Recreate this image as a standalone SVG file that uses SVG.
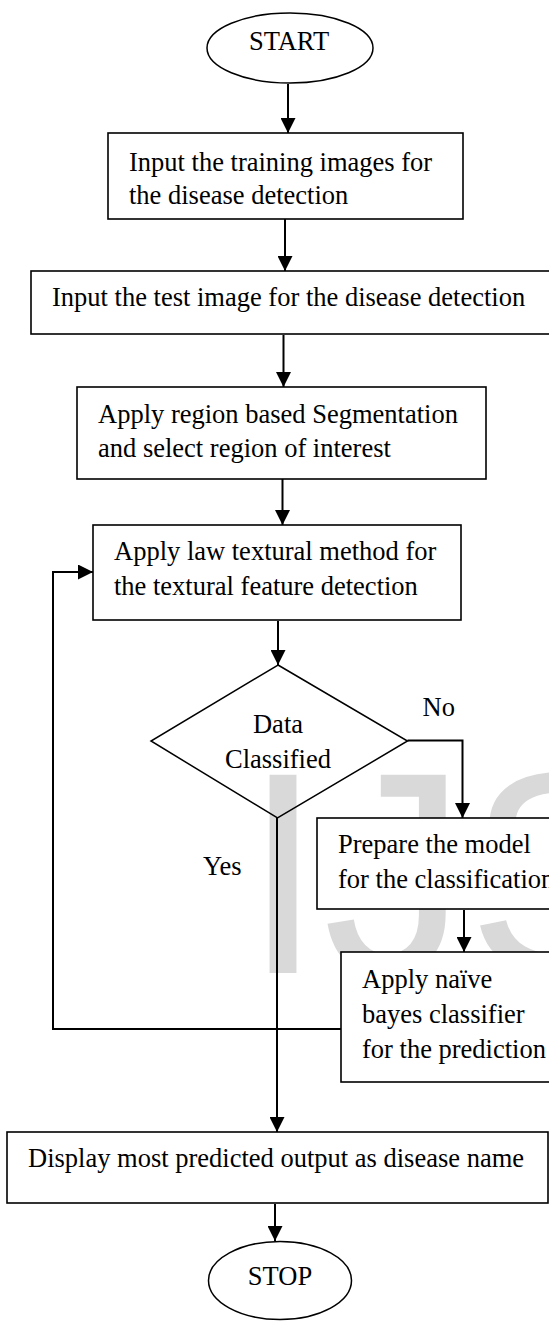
<svg xmlns="http://www.w3.org/2000/svg" width="549" height="1321" viewBox="0 0 549 1321">
<style>
  .box { fill: #ffffff; stroke: #000000; stroke-width: 1.6; }
  .shape { fill: none; stroke: #000000; stroke-width: 1.5; }
  .lbl { font-family: "Liberation Serif", "Times New Roman", serif; font-size: 26.5px; fill: #000000; }
  .mid { text-anchor: middle; }
  .conn { fill: none; stroke: #000000; stroke-width: 2; }
  .wm { font-family: "Liberation Sans", Arial, sans-serif; font-size: 288px; fill: #d9d9d9; }
</style>
<defs>
  <marker id="arrow" markerUnits="userSpaceOnUse" markerWidth="15" markerHeight="15" refX="15" refY="7.5" orient="auto">
    <path d="M0,0 L15,7.5 L0,15 z" fill="#000000"/>
  </marker>
</defs>
<rect x="0" y="0" width="549" height="1321" fill="#ffffff"/>

<g id="watermark">
  <text class="wm" x="243" y="973">IJS</text>
</g>

<g id="start">
  <ellipse class="shape" cx="290" cy="48" rx="83" ry="35"/>
  <text class="lbl mid" x="289" y="50">START</text>
</g>

<g id="input-training">
  <rect class="box" x="108" y="133" width="355" height="86"/>
  <text class="lbl" x="129" y="170.5">Input the training images for</text>
  <text class="lbl" x="129" y="204">the disease detection</text>
</g>

<g id="input-test">
  <rect class="box" x="31" y="271" width="540" height="63"/>
  <text class="lbl" x="52" y="306">Input the test image for the disease detection</text>
</g>

<g id="segmentation">
  <rect class="box" x="77" y="387" width="409" height="92"/>
  <text class="lbl" x="98" y="423">Apply region based Segmentation</text>
  <text class="lbl" x="98" y="457">and select region of interest</text>
</g>

<g id="law-textural">
  <rect class="box" x="93" y="525" width="368" height="95"/>
  <text class="lbl" x="114" y="560">Apply law textural method for</text>
  <text class="lbl" x="114" y="595">the textural feature detection</text>
</g>

<g id="decision">
  <polygon class="shape" points="278,665 407.5,741 277.5,818 151,741" fill="#ffffff" fill-opacity="0"/>
  <text class="lbl mid" x="278" y="733">Data</text>
  <text class="lbl mid" x="278" y="768">Classified</text>
</g>

<g id="prepare-model">
  <rect class="box" x="317" y="818" width="260" height="91"/>
  <text class="lbl" x="338" y="853">Prepare the model</text>
  <text class="lbl" x="338" y="888">for the classification</text>
</g>

<g id="naive-bayes">
  <rect class="box" x="341" y="952" width="240" height="130"/>
  <text class="lbl" x="362" y="988">Apply naïve</text>
  <text class="lbl" x="362" y="1023">bayes classifier</text>
  <text class="lbl" x="362" y="1058">for the prediction</text>
</g>

<g id="display">
  <rect class="box" x="7" y="1132" width="541" height="71"/>
  <text class="lbl" x="28" y="1167">Display most predicted output as disease name</text>
</g>

<g id="stop">
  <ellipse class="shape" cx="280" cy="1280.5" rx="71.5" ry="39"/>
  <text class="lbl mid" x="280" y="1285">STOP</text>
</g>

<g id="connectors">
  <line class="conn" x1="288" y1="84" x2="288" y2="133" marker-end="url(#arrow)"/>
  <line class="conn" x1="285" y1="219" x2="285" y2="271" marker-end="url(#arrow)"/>
  <line class="conn" x1="283.5" y1="335" x2="283.5" y2="387" marker-end="url(#arrow)"/>
  <line class="conn" x1="282.5" y1="479" x2="282.5" y2="525" marker-end="url(#arrow)"/>
  <line class="conn" x1="278" y1="621" x2="278" y2="665" marker-end="url(#arrow)"/>
  <polyline class="conn" points="407.5,740.5 462.5,740.5 462.5,818" marker-end="url(#arrow)"/>
  <line class="conn" x1="464" y1="910" x2="464" y2="952" marker-end="url(#arrow)"/>
  <line class="conn" x1="277" y1="818" x2="277" y2="1132" marker-end="url(#arrow)"/>
  <polyline class="conn" points="341,1029 53,1029 53,572 93,572" marker-end="url(#arrow)"/>
  <line class="conn" x1="275" y1="1204" x2="275" y2="1241" marker-end="url(#arrow)"/>
  <text class="lbl" x="422.5" y="716">No</text>
  <text class="lbl" x="203" y="875">Yes</text>
</g>
</svg>
